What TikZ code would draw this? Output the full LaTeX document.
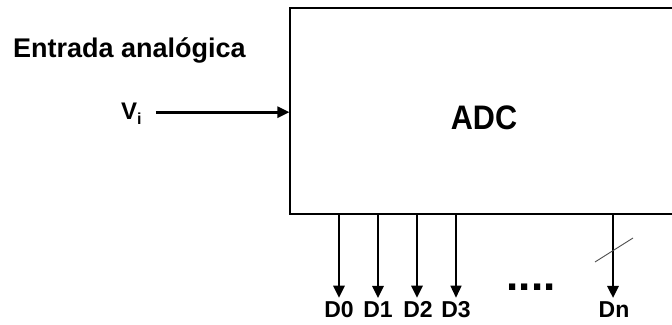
\documentclass[tikz,border=0pt]{standalone}
\usepackage{fontspec}
\setmainfont{Liberation Sans}
\usetikzlibrary{positioning, arrows.meta, calc}

\begin{document}
\begin{tikzpicture}[
    x=1pt, y=1pt,
    block/.style={rectangle, draw, line width=1.1pt, minimum width=388pt, minimum height=206pt, inner sep=0pt},
    txt/.style={font=\bfseries, inner sep=0pt},
    bit/.style={font=\fontsize{23}{23}\selectfont\bfseries, inner sep=3pt},
    arrow/.style={-{Triangle[length=12pt, width=11pt]}, line width=2.6pt},
    slash/.style={line width=0.9pt, gray!60!black}
]
\useasboundingbox (0,0) rectangle (672,324);

% converter block (runs past the right edge)
\node[block] (adc) at (484,213) {};
\node[txt, font=\fontsize{34}{34}\selectfont\bfseries, anchor=base] (adctext) at (484,194)
    {\scalebox{0.9}[1]{ADC}};

% analog input
\node[txt, font=\fontsize{27}{27}\selectfont\bfseries, anchor=base west] (title) at (13,266.3) {Entrada analógica};
\node[txt, font=\fontsize{24}{24}\selectfont\bfseries, anchor=base west] (vi) at (121,204)
    {V\raisebox{-5pt}{\fontsize{16}{16}\selectfont i}};
\draw[arrow] ([xshift=14pt, yshift=2pt]vi.east) -- ([yshift=2pt]vi.east -| adc.west);

% output bits
\coordinate (p0) at (339,110);
\coordinate (p1) at (378,110);
\coordinate (p2) at (417,110);
\coordinate (p3) at (456,110);
\coordinate (pn) at (613,110);

\node[bit, anchor=base] (d0) at (339,7) {D0};
\node[bit, anchor=base] (d1) at (378,7) {D1};
\node[bit, anchor=base] (d2) at (418,7) {D2};
\node[bit, anchor=base] (d3) at (456,7) {D3};
\node[bit, anchor=base] (dn) at (614,7) {Dn};
\node[txt, font=\fontsize{44}{44}\selectfont\bfseries, anchor=base] (dots) at (531,33.3) {....};

\draw[arrow] (p0) -- (p0 |- d0.north);
\draw[arrow] (p1) -- (p1 |- d1.north);
\draw[arrow] (p2) -- (p2 |- d2.north);
\draw[arrow, line width=1.3pt] (p3) -- (p3 |- d3.north);
\draw[arrow] (pn) -- (pn |- dn.north);

% bus width mark
\draw[slash] ($(pn)+(-18,-48)$) -- ($(pn)+(20,-24)$);

\end{tikzpicture}
\end{document}
